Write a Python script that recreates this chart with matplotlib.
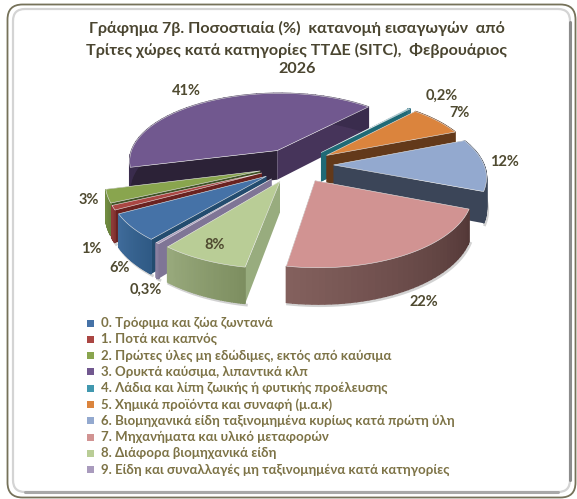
#!/usr/bin/env python
import numpy as np
import matplotlib
matplotlib.use("Agg")
import matplotlib.pyplot as plt
from matplotlib.patches import Polygon, Rectangle, FancyBboxPatch

plt.rcParams['font.family'] = ['Lato', 'Open Sans', 'DejaVu Sans']

W, H = 577, 499
shares = [6, 1, 3, 41, 0.2, 7, 12, 22, 8, 0.3]
value_labels = ["6%", "1%", "3%", "41%", "0,2%", "7%", "12%", "22%", "8%", "0,3%"]
categories = [
    "0. Τρόφιμα και ζώα ζωντανά",
    "1. Ποτά και καπνός",
    "2. Πρώτες ύλες μη εδώδιμες, εκτός από καύσιμα",
    "3. Ορυκτά καύσιμα, λιπαντικά κλπ",
    "4. Λάδια και λίπη ζωικής ή φυτικής προέλευσης",
    "5. Χημικά προϊόντα και συναφή (μ.α.κ)",
    "6. Βιομηχανικά είδη ταξινομημένα κυρίως κατά πρώτη ύλη",
    "7. Μηχανήματα και υλικό μεταφορών",
    "8. Διάφορα βιομηχανικά είδη",
    "9. Είδη και συναλλαγές μη ταξινομημένα κατά κατηγορίες",
]
title_lines = ["Γράφημα 7β. Ποσοστιαία (%)  κατανομή εισαγωγών  από",
               "Τρίτες χώρες κατά κατηγορίες ΤΤΔΕ (SITC),  Φεβρουάριος",
               "2026"]

# top, rim at start, rim at end, wall at start, wall at end
top_cols = ["#4572a7", "#aa4643", "#89a54e", "#71588f", "#4198af",
            "#db843d", "#93a9cf", "#d19392", "#b9cd96", "#a99bbd"]
rim_a = ["#2f5a85", "#7d2f2d", "#66803a", "#3a2c4d", "#2b7080",
         "#63391a", "#3a4558", "#533837", "#7d8e60", "#7f7596"]
rim_b = ["#3f6b9a", "#8c3a38", "#728c42", "#3a2c4d", "#2b7080",
         "#63391a", "#3a4558", "#83605d", "#98a97c", "#8a80a0"]
wall_a = ["#234c6f", "#6a2220", "#3f5226", "#2c2237", "#1f6a76",
          "#63391a", "#3b4558", "#533837", "#98ac7e", "#7f7596"]
wall_b = ["#234c6f", "#6a2220", "#3f5226", "#46345a", "#1f6a76",
          "#63391a", "#3b4558", "#533837", "#98ac7e", "#7f7596"]

# view of the tilted pie, fitted to the picture
CX, CY = 296.05, 165.0
FX, FY = 150.37, 69.45
PERSP = 0.145
START = 4.017
EXPLODE = 0.25
DEPTH = 30

cum = np.concatenate([[0], np.cumsum(shares)]) / sum(shares)


def proj(X, Y):
    w = 1 + PERSP * Y
    return CX + FX * X / w, CY - FY * Y / w, w


def slice_xy(i, n=40):
    ts = START - 2 * np.pi * cum[i]
    te = START - 2 * np.pi * cum[i + 1]
    mid = (ts + te) / 2
    th = np.linspace(ts, te, n)
    a0, a1 = EXPLODE * np.cos(mid), EXPLODE * np.sin(mid)
    return a0, a1, a0 + np.cos(th), a1 + np.sin(th)


def mix(c0, c1, t):
    a = np.array(matplotlib.colors.to_rgb(c0))
    b = np.array(matplotlib.colors.to_rgb(c1))
    return a + (b - a) * t


fig = plt.figure(figsize=(W / 100, H / 100), dpi=100)
ax = fig.add_axes([0, 0, 1, 1])
ax.set_xlim(0, W)
ax.set_ylim(H, 0)
ax.axis("off")

# rounded frame with the soft inner edge
ax.add_patch(FancyBboxPatch((7.5, 4.5), 568, 493, boxstyle="round,pad=0,rounding_size=15",
                            fc="white", ec="#76725a", lw=1.3, zorder=0))
ax.add_patch(FancyBboxPatch((13, 9), 557, 483, boxstyle="round,pad=0,rounding_size=12",
                            fc="white", ec="#d4d4d4", lw=1.6, zorder=0.5))
ax.plot([570, 570], [22, 480], color="#8c8c8c", lw=2.2, zorder=0.6, solid_capstyle="round")
ax.plot([25, 558], [492, 492], color="#a8a8a8", lw=2.2, zorder=0.6, solid_capstyle="round")

order = sorted(range(10), key=lambda i: -np.sin(START - np.pi * (cum[i] + cum[i + 1])))
for z, i in enumerate(order):
    a0, a1, X, Y = slice_xy(i)
    xr, yr, wr = proj(X, Y)
    xa, ya, wa = proj(np.array([a0]), np.array([a1]))
    A = (xa[0], ya[0])
    Ab = (xa[0], ya[0] + DEPTH / wa[0])
    bot = yr + DEPTH / wr
    zz = 2 + z
    # soft shadow under the lower edge
    ax.plot(xr + 1.2, bot + 1.5, color="#808080", alpha=0.35, lw=2, zorder=zz - 0.1)
    ax.add_patch(Polygon([A, (xr[0], yr[0]), (xr[0], bot[0]), Ab], fc=wall_a[i], ec="none", zorder=zz))
    ax.add_patch(Polygon([A, (xr[-1], yr[-1]), (xr[-1], bot[-1]), Ab], fc=wall_b[i], ec="none", zorder=zz))
    for n in range(len(xr) - 1):
        col = mix(rim_a[i], rim_b[i], n / (len(xr) - 2))
        ax.add_patch(Polygon([(xr[n], yr[n]), (xr[n + 1], yr[n + 1]), (xr[n + 1], bot[n + 1]), (xr[n], bot[n])],
                             fc=col, ec=col, lw=1.0, zorder=zz))
    ax.add_patch(Polygon([A] + list(zip(xr, yr)), fc=top_cols[i], ec="#e8e8e8", lw=0.4, zorder=zz + 0.5))

for line, y in zip(title_lines, [28, 50, 69]):
    ax.text(297, y, line, ha="center", va="center", fontsize=11.6, fontweight="bold",
            color="#4a4530", zorder=30)

label_xy = [(120, 268), (91, 249), (89, 200), (186, 91), (442, 96), (460, 113),
            (504, 162), (424, 302), (215, 245), (146, 290)]
for s, (lx, ly) in zip(value_labels, label_xy):
    ax.text(lx, ly, s, ha="center", va="center", fontsize=10.5, fontweight="bold",
            color="#4f4a30", zorder=30)

for n, (name, col) in enumerate(zip(categories, top_cols)):
    y = 323 + n * 16.3
    ax.add_patch(Rectangle((87, y - 3.5), 7, 7, fc=col, ec="none", zorder=30))
    ax.text(101, y, name, ha="left", va="center", fontsize=9.5, fontweight="bold",
            color="#7d7346", zorder=30)

fig.savefig("out.png", dpi=100)
